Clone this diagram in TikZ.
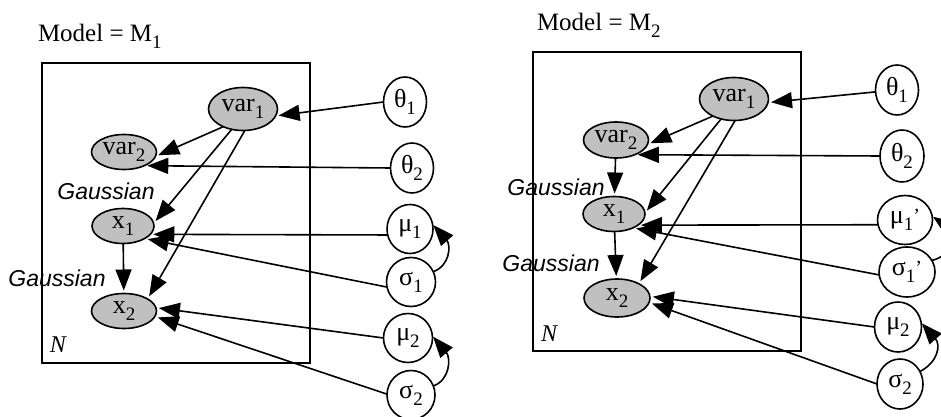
\documentclass[tikz,border=0pt]{standalone}
\usepackage{fontspec}
\setmainfont{Liberation Serif}
\newfontfamily\gfont{Liberation Sans}
\usetikzlibrary{shapes.geometric,arrows.meta}
\definecolor{obsgray}{RGB}{192,192,192}
\newcommand\lsub[1]{\raisebox{-0.28em}{\fontsize{19}{19}\selectfont #1}}
\newcommand\sprime{\raisebox{0.05em}{\fontsize{20}{20}\selectfont\symbol{"27}}}
\begin{document}
\begin{tikzpicture}[x=1pt,y=-1pt,
  every node/.style={inner sep=0pt, outer sep=0pt},
  obs/.style={ellipse, draw, line width=1.6pt, fill=obsgray, font=\fontsize{26}{26}\selectfont},
  par/.style={ellipse, draw, line width=1.6pt, fill=white, font=\fontsize{26}{26}\selectfont},
  plate/.style={draw, line width=1.6pt, rectangle},
  arr/.style={line width=1.6pt, -{Triangle[length=21pt,width=16pt]}, shorten >=3pt},
  gauss/.style={font=\gfont\itshape\fontsize{23}{23}\selectfont},
  title/.style={anchor=base west, font=\fontsize{25}{25}\selectfont},
  platelabel/.style={font=\itshape\fontsize{24}{24}\selectfont}]
\useasboundingbox (0,0) rectangle (941,417);

% ---------------- left panel ----------------
\node[title] (T1) at (38,42) {Model = M\lsub{1}};
\node[plate, minimum width=268pt, minimum height=300pt] (Lbox) at (176,213) {};
\node[obs, minimum width=69pt, minimum height=43pt] (Lv1) at (243,109) {var\lsub{1}};
\node[obs, minimum width=65pt, minimum height=35pt] (Lv2) at (124,152) {var\lsub{2}};
\node[obs, minimum width=62pt, minimum height=35pt] (Lx1) at (123,226) {x\lsub{1}};
\node[obs, minimum width=65pt, minimum height=35pt] (Lx2) at (124,311) {x\lsub{2}};
\node[par, minimum width=43pt, minimum height=50pt] (Lt1) at (405,102) {θ\lsub{1}};
\node[par, minimum width=43pt, minimum height=50pt] (Lt2) at (412,168) {θ\lsub{2}};
\node[par, minimum width=46pt, minimum height=49pt] (Lm1) at (410,229) {μ\lsub{1}};
\node[par, minimum width=49pt, minimum height=49pt] (Ls1) at (411,282) {σ\lsub{1}};
\node[par, minimum width=49pt, minimum height=49pt] (Lm2) at (408,338) {μ\lsub{2}};
\node[par, minimum width=48pt, minimum height=49pt] (Ls2) at (411,395) {σ\lsub{2}};
\node[gauss] (Lg1) at (106,191) {Gaussian};
\node[gauss] (Lg2) at (57,278) {Gaussian};
\node[platelabel] (LN) at (58,345) {N};

\draw[arr] (Lt1.west) -- (Lv1.-12);
\draw[arr] (Lv1.-138) -- (Lv2.-8);
\draw[arr] (Lt2.west) -- (Lv2.-34);
\draw[arr] (Lv1.-119) -- (Lx1.5);
\draw[arr] (Lv1.-85) -- (Lx2.27);
\draw[arr] (Lm1.-165) -- (Lx1.-17);
\draw[arr] (Ls1.-168) -- (Lx1.-30);
\draw[arr] (Lx1) -- (Lx2);
\draw[arr] (Lm2.west) -- (Lx2.6);
\draw[arr] (Ls2.178) -- (Lx2.-10);
\draw[arr, shorten >=1pt] (Ls1.25) .. controls (450,266) and (451,245) .. (Lm1.12);
\draw[arr, shorten >=1pt] (Ls2.22) .. controls (450,380) and (451,358) .. (Lm2.5);

% ---------------- right panel ----------------
\node[title] (T2) at (537,31) {Model = M\lsub{2}};
\node[plate, minimum width=268pt, minimum height=299pt] (Rbox) at (667,201.5) {};
\node[obs, minimum width=69pt, minimum height=43pt] (Rv1) at (734,99) {var\lsub{1}};
\node[obs, minimum width=65pt, minimum height=36pt] (Rv2) at (616,140) {var\lsub{2}};
\node[obs, minimum width=62pt, minimum height=35pt] (Rx1) at (614,214) {x\lsub{1}};
\node[obs, minimum width=66pt, minimum height=38pt] (Rx2) at (617,298) {x\lsub{2}};
\node[par, minimum width=43pt, minimum height=50pt] (Rt1) at (897,90) {θ\lsub{1}};
\node[par, minimum width=44pt, minimum height=52pt] (Rt2) at (902,156) {θ\lsub{2}};
\node[par, minimum width=55pt, minimum height=49pt] (Rm1) at (905,220) {μ\lsub{1}\sprime};
\node[par, minimum width=56pt, minimum height=50pt] (Rs1) at (907,272) {σ\lsub{1}\sprime};
\node[par, minimum width=47pt, minimum height=50pt] (Rm2) at (898,327) {μ\lsub{2}};
\node[par, minimum width=46pt, minimum height=50pt] (Rs2) at (900,384) {σ\lsub{2}};
\node[gauss] (Rg1) at (556,187) {Gaussian};
\node[gauss] (Rg2) at (551,263) {Gaussian};
\node[platelabel] (RN) at (549,334) {N};

\draw[arr] (Rt1.185) -- (Rv1.-6);
\draw[arr] (Rv1.-141) -- (Rv2.-8);
\draw[arr] (Rt2.west) -- (Rv2.-38);
\draw[arr] (Rv2) -- (Rx1);
\draw[arr] (Rv1.-123) -- (Rx1.2);
\draw[arr] (Rv1.-87) -- (Rx2.33);
\draw[arr] (Rm1.-170) -- (Rx1.-25);
\draw[arr] (Rs1.-174) -- (Rx1.-36);
\draw[arr] (Rx1) -- (Rx2);
\draw[arr] (Rm2.west) -- (Rx2.3);
\draw[arr] (Rs2.west) -- (Rx2.-8);
\draw[arr, shorten >=1pt] (Rs1.25) .. controls (955,255) and (955,232) .. (Rm1.8);
\draw[arr, shorten >=1pt] (Rs2.32) .. controls (938,362) and (941,345) .. (Rm2.11);
\end{tikzpicture}
\end{document}
